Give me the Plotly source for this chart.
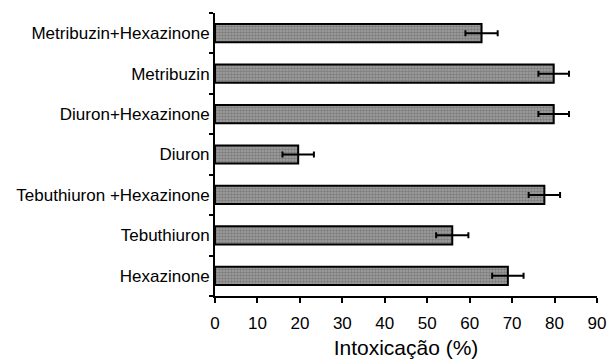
import plotly.graph_objects as go

categories = ["Hexazinone", "Tebuthiuron", "Tebuthiuron +Hexazinone", "Diuron",
              "Diuron+Hexazinone", "Metribuzin", "Metribuzin+Hexazinone"]
values = [69.0, 55.9, 77.6, 19.6, 79.8, 79.8, 62.8]
errors = [3.7, 3.8, 3.7, 3.7, 3.6, 3.6, 3.8]
x_ticks = [0, 10, 20, 30, 40, 50, 60, 70, 80, 90]

fig = go.Figure(go.Bar(
    y=categories, x=values, orientation="h", width=0.45,
    marker=dict(color="#8a8a8a",
                line=dict(color="black", width=2),
                pattern=dict(shape=".", fgcolor="#555555", bgcolor="#a4a4a4", size=3, solidity=0.6)),
    error_x=dict(type="data", array=errors, visible=True, color="black", thickness=2, width=3),
))

fig.update_layout(
    width=612, height=360,
    margin=dict(l=215, r=15, t=13, b=64),
    paper_bgcolor="white", plot_bgcolor="white",
    font=dict(family="Liberation Sans, Arial, sans-serif", size=17, color="black"),
    showlegend=False,
)
fig.update_xaxes(
    range=[0, 90], tickvals=x_ticks, ticktext=[str(t) for t in x_ticks],
    showline=True, linecolor="black", linewidth=2, ticks="outside", ticklen=5,
    tickwidth=2, tickcolor="black", showgrid=False, zeroline=False,
    title=dict(text="Intoxicação (%)", font=dict(size=21), standoff=8),
    tickfont=dict(size=17), ticklabelstandoff=6, automargin=False,
)
fig.update_yaxes(
    categoryorder="array", categoryarray=categories, range=[-0.5, 6.5],
    showline=True, linecolor="black", linewidth=2, ticks="outside", ticklen=4,
    tickwidth=2, tickcolor="black", tickson="boundaries", showgrid=False,
    zeroline=False, ticklabelstandoff=0, tickfont=dict(size=17), automargin=False,
)

fig.write_html("out.html", config={"displayModeBar": False},
               post_script="document.body.style.margin='0';")
